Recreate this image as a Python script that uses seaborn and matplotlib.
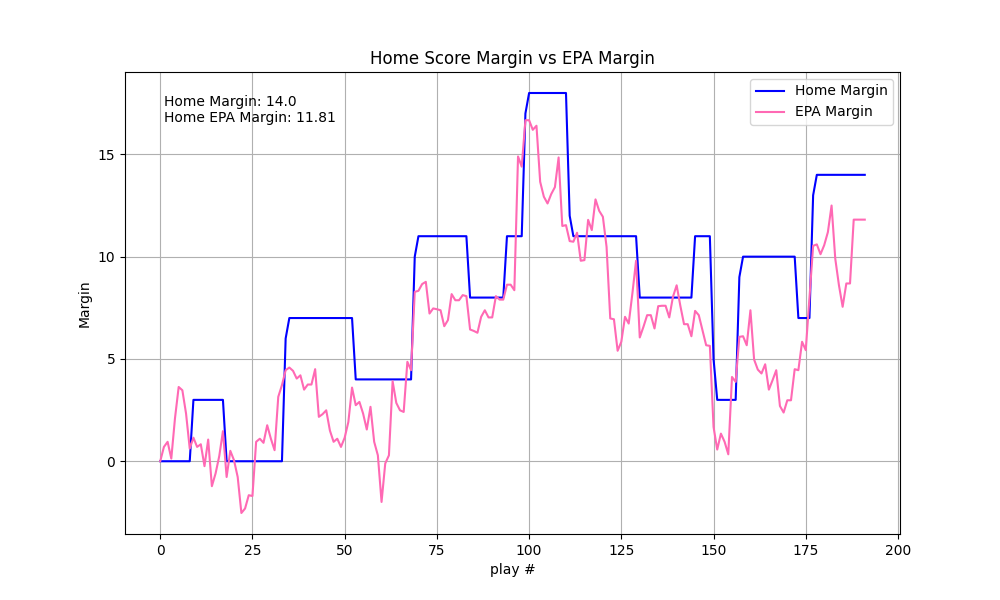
import matplotlib
matplotlib.use("Agg")
import matplotlib.pyplot as plt
import numpy as np
import pandas as pd
import seaborn as sns

# ── data: one value per play ─────────────────────────────────
home_margin = [
    0, 0, 0, 0, 0, 0, 0, 0, 0, 3,
    3, 3, 3, 3, 3, 3, 3, 3, 0, 0,
    0, 0, 0, 0, 0, 0, 0, 0, 0, 0,
    0, 0, 0, 0, 6, 7, 7, 7, 7, 7,
    7, 7, 7, 7, 7, 7, 7, 7, 7, 7,
    7, 7, 7, 4, 4, 4, 4, 4, 4, 4,
    4, 4, 4, 4, 4, 4, 4, 4, 4, 10,
    11, 11, 11, 11, 11, 11, 11, 11, 11, 11,
    11, 11, 11, 11, 8, 8, 8, 8, 8, 8,
    8, 8, 8, 8, 11, 11, 11, 11, 11, 17,
    18, 18, 18, 18, 18, 18, 18, 18, 18, 18,
    18, 12, 11, 11, 11, 11, 11, 11, 11, 11,
    11, 11, 11, 11, 11, 11, 11, 11, 11, 11,
    8, 8, 8, 8, 8, 8, 8, 8, 8, 8,
    8, 8, 8, 8, 8, 11, 11, 11, 11, 11,
    5, 3, 3, 3, 3, 3, 3, 9, 10, 10,
    10, 10, 10, 10, 10, 10, 10, 10, 10, 10,
    10, 10, 10, 7, 7, 7, 7, 13, 14, 14,
    14, 14, 14, 14, 14, 14, 14, 14, 14, 14,
    14, 14,
]

epa_margin = [
    0.0, 0.7, 0.95, 0.13, 2.1, 3.63, 3.47, 2.33, 0.62, 1.15,
    0.7, 0.83, -0.24, 1.06, -1.22, -0.6, 0.25, 1.47, -0.77, 0.51,
    0.05, -0.77, -2.53, -2.31, -1.66, -1.7, 0.95, 1.1, 0.9, 1.76,
    1.1, 0.54, 3.15, 3.72, 4.45, 4.58, 4.42, 4.04, 4.2, 3.5,
    3.75, 3.75, 4.5, 2.17, 2.3, 2.49, 1.5, 0.95, 1.1, 0.7,
    1.15, 1.92, 3.6, 2.74, 2.9, 2.33, 1.55, 2.66, 0.95, 0.29,
    -1.99, -0.11, 0.29, 3.91, 2.85, 2.49, 2.41, 4.86, 4.45, 8.28,
    8.33, 8.66, 8.77, 7.22, 7.47, 7.43, 7.38, 6.6, 6.9, 8.17,
    7.87, 7.87, 8.12, 8.07, 6.44, 6.37, 6.28, 7.06, 7.38, 7.03,
    7.03, 8.07, 7.9, 7.9, 8.63, 8.63, 8.36, 14.9, 14.4, 16.67,
    16.67, 16.2, 16.4, 13.66, 12.93, 12.6, 13.06, 13.4, 14.85, 11.5,
    11.54, 10.76, 10.73, 11.17, 9.8, 9.83, 11.8, 11.3, 12.8, 12.24,
    11.95, 10.48, 6.98, 6.94, 5.4, 5.84, 7.06, 6.73, 8.2, 9.8,
    6.05, 6.57, 7.14, 7.14, 6.49, 7.58, 7.6, 7.6, 7.03, 8.04,
    8.6, 7.6, 6.7, 6.7, 6.11, 7.35, 7.14, 6.4, 5.67, 5.64,
    1.68, 0.57, 1.35, 0.95, 0.34, 4.12, 3.88, 6.08, 6.11, 5.67,
    7.38, 4.97, 4.48, 4.29, 4.74, 3.5, 3.96, 4.45, 2.7, 2.38,
    2.98, 2.98, 4.5, 4.45, 5.84, 5.43, 8.0, 10.53, 10.6, 10.12,
    10.56, 11.2, 12.5, 9.9, 8.6, 7.55, 8.69, 8.69, 11.81, 11.81,
    11.81, 11.81,
]

plays = list(range(len(home_margin)))

df = pd.DataFrame({"play": plays,
                   "home": home_margin,
                   "epa": epa_margin})

# ── plot ─────────────────────────────────────────────────────
fig, ax = plt.subplots(figsize=(10, 6), dpi=100)

sns.lineplot(data=df, x="play", y="home", color="blue",
             label="Home Margin", ax=ax)
sns.lineplot(data=df, x="play", y="epa", color="hotpink",
             label="EPA Margin", ax=ax)

ax.set_title("Home Score Margin vs EPA Margin")
ax.set_xlabel("play #")
ax.set_ylabel("Margin")
ax.grid(True)
ax.legend(loc="upper right")

ax.text(0.05, 0.95,
        f"Home Margin: {float(home_margin[-1])}\nHome EPA Margin: {epa_margin[-1]}",
        transform=ax.transAxes, verticalalignment="top")

plt.savefig("out.png", dpi=100)
plt.close()
